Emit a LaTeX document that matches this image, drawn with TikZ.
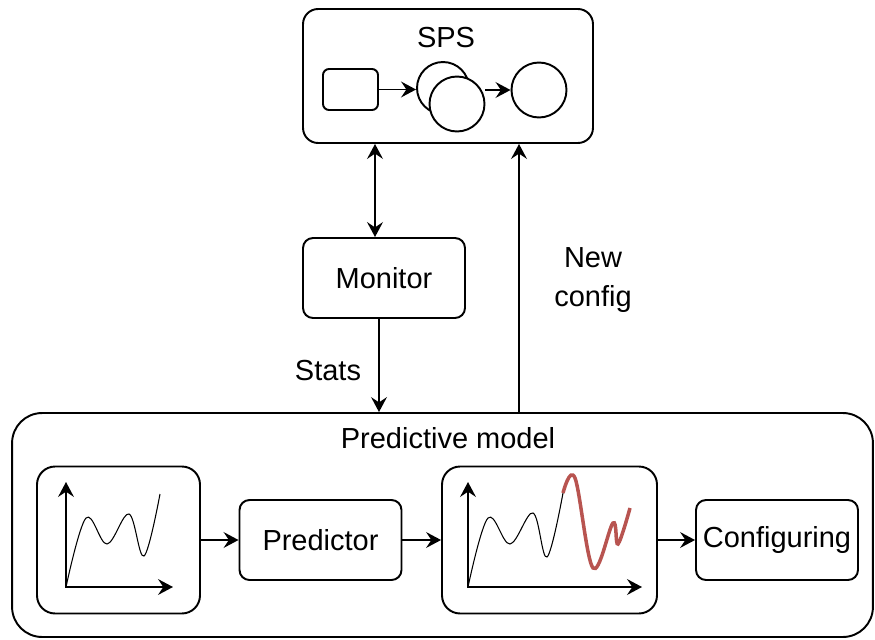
\documentclass[tikz,border=0pt]{standalone}
\usepackage{fontspec}
\setmainfont{Liberation Sans}
\usetikzlibrary{arrows.meta}
\definecolor{predred}{HTML}{B85450}
\begin{document}
\begin{tikzpicture}[x=0.02cm,y=-0.02cm,line width=1.1pt,
    arr/.style={-{Stealth[length=8.5pt,width=9pt,inset=3pt]}},
    biarr/.style={{Stealth[length=8.5pt,width=9pt,inset=3pt]}-{Stealth[length=8.5pt,width=9pt,inset=3pt]}},
    txt/.style={font=\fontsize{16.5}{20}\selectfont},
    box/.style={draw,txt,rounded corners=0.2cm,inner sep=2pt,minimum width=3.24cm,minimum height=1.6cm},
    chartbox/.style={draw,rounded corners=0.36cm,minimum height=2.94cm},
    op/.style={draw,circle,fill=white,inner sep=0pt}]
  \useasboundingbox (0,0) rectangle (875,639);
  \draw
    (448,76) node[draw,rounded corners=0.3cm,minimum width=5.8cm,minimum height=2.68cm] (sps){}
    (446,38) node[txt] (spslabel){SPS}
    (350.5,89.5) node[draw,rounded corners=0.12cm,minimum width=1.1cm,minimum height=0.82cm] (src){}
    (443,88) node[op,minimum size=1.04cm] (op1){}
    (457,104) node[op,minimum size=1.1cm] (op2){}
    (539,90) node[op,minimum size=1.1cm] (sink){}
    (384,278) node[box] (mon){Monitor}
    (442.5,525) node[draw,rounded corners=0.6cm,minimum width=17.22cm,minimum height=4.48cm] (pm){}
    (448,438) node[txt] (pmlabel){Predictive model}
    (118.5,540) node[chartbox,minimum width=3.26cm] (hist){}
    (320.5,540) node[box] (pred){Predictor}
    (549.5,540) node[chartbox,minimum width=4.3cm] (fcst){}
    (777,540) node[box] (conf){Configuring};
  \coordinate (c1) at (375,0);
  \coordinate (c2) at (379,0);
  \coordinate (c3) at (519,0);
  \begin{scope}[arr]
    \draw (src.east) -- (op1.west |- src.east);
    \draw (op2.east |- sink.west) -- (sink.west);
    \draw[biarr] (sps.south -| c1) -- (mon.north -| c1);
    \draw (mon.south -| c2) -- (pm.north -| c2);
    \draw (pm.north -| c3) -- (sps.south -| c3);
    \draw (hist.east) -- (pred.west);
    \draw (pred.east) -- (fcst.west);
    \draw (fcst.east) -- (conf.west);
  \end{scope}
  \node[txt] (stats) at (328,371) {Stats};
  \node[txt,align=center,font=\fontsize{16.5}{22}\selectfont] (newcfg) at (593,280) {New\\config};
  \draw[biarr] (66,482) -- (66,587) -- (173,587);
  \draw[biarr] (468,482) -- (468,587) -- (642,587);
  \draw[line width=0.6pt] plot[smooth,tension=0.6] coordinates {(66,587) (86,518) (107,544) (129,514) (144,556) (160,494)};
  \draw[line width=0.6pt] plot[smooth,tension=0.6] coordinates {(468,587) (488,518) (510,544) (533,513) (547,557) (563,493)};
  \draw[predred,line width=2pt] plot[smooth,tension=0.6] coordinates {(563,493) (575,478) (593,568) (613,523) (618,544) (630,508)};
\end{tikzpicture}
\end{document}
